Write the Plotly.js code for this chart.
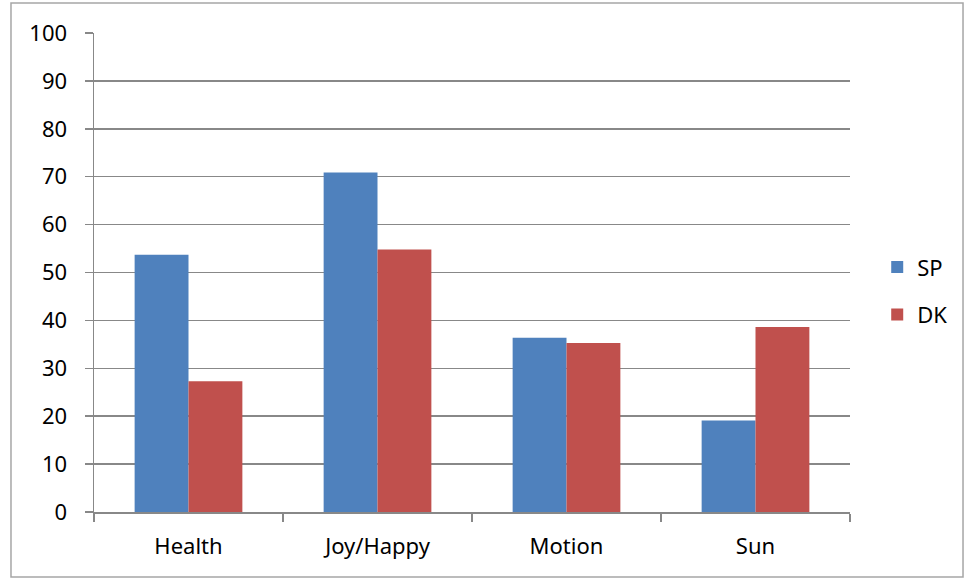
<!DOCTYPE html>
<html>
<head>
<meta charset="utf-8">
<script src="https://cdn.plot.ly/plotly-3.0.1.min.js"></script>
<style>
  html, body { margin: 0; padding: 0; background: #fff; }
  #chart { width: 965px; height: 579px; }
</style>
</head>
<body>
<div id="chart"></div>
<script>
// Category labels and the two series
const categories = ["Health", "Joy/Happy", "Motion", "Sun"];
const spValues = [53.7, 70.9, 36.4, 19.1];
const dkValues = [27.3, 54.8, 35.3, 38.6];
const yTickValues = [0, 10, 20, 30, 40, 50, 60, 70, 80, 90, 100];

const fontFamily = "'Noto Sans', 'Open Sans', sans-serif";
const gridColor = "#888888";

const traces = [
  {
    type: "bar",
    name: "SP",
    x: categories,
    y: spValues,
    marker: { color: "#4F81BD" },
    legendgroup: "sp",
    hoverinfo: "x+y+name"
  },
  {
    type: "bar",
    name: "DK",
    x: categories,
    y: dkValues,
    marker: { color: "#C0504D" },
    legendgroup: "dk",
    hoverinfo: "x+y+name"
  }
];

const layout = {
  width: 965,
  height: 579,
  paper_bgcolor: "#ffffff",
  plot_bgcolor: "#ffffff",
  margin: { l: 94, r: 115, t: 33, b: 67 },
  barmode: "group",
  bargap: 0.43,
  bargroupgap: 0,
  font: { family: fontFamily, size: 22, color: "#000000" },
  xaxis: {
    type: "category",
    showgrid: false,
    showline: true,
    linecolor: gridColor,
    linewidth: 1.5,
    ticks: "outside",
    tickson: "boundaries",
    ticklen: 8,
    tickcolor: gridColor,
    tickwidth: 1.5,
    ticklabelstandoff: 14,
    tickfont: { family: fontFamily, size: 22, color: "#000" },
    zeroline: false
  },
  yaxis: {
    range: [0, 100],
    tickvals: yTickValues,
    ticktext: yTickValues.map(String),
    showgrid: true,
    gridcolor: gridColor,
    gridwidth: 1.5,
    showline: true,
    linecolor: gridColor,
    linewidth: 1.5,
    ticks: "outside",
    ticklen: 8,
    tickcolor: gridColor,
    tickwidth: 1.5,
    ticklabelstandoff: 13,
    tickfont: { family: fontFamily, size: 22, color: "#000" },
    zeroline: false
  },
  showlegend: true,
  legend: {
    x: 1.036,
    y: 0.461,
    xanchor: "left",
    yanchor: "middle",
    traceorder: "grouped",
    tracegroupgap: 16,
    font: { family: fontFamily, size: 22, color: "#000" },
    bgcolor: "rgba(0,0,0,0)",
    itemwidth: 30
  },
  shapes: [
    {
      type: "rect",
      xref: "paper", yref: "paper",
      x0: -0.1098, x1: 1.1495, y0: -0.1357, y1: 1.0626,
      line: { color: "#A6A6A6", width: 1.5 },
      fillcolor: "rgba(0,0,0,0)",
      layer: "below"
    }
  ]
};

Plotly.newPlot("chart", traces, layout, { displayModeBar: false, staticPlot: true });
</script>
</body>
</html>
